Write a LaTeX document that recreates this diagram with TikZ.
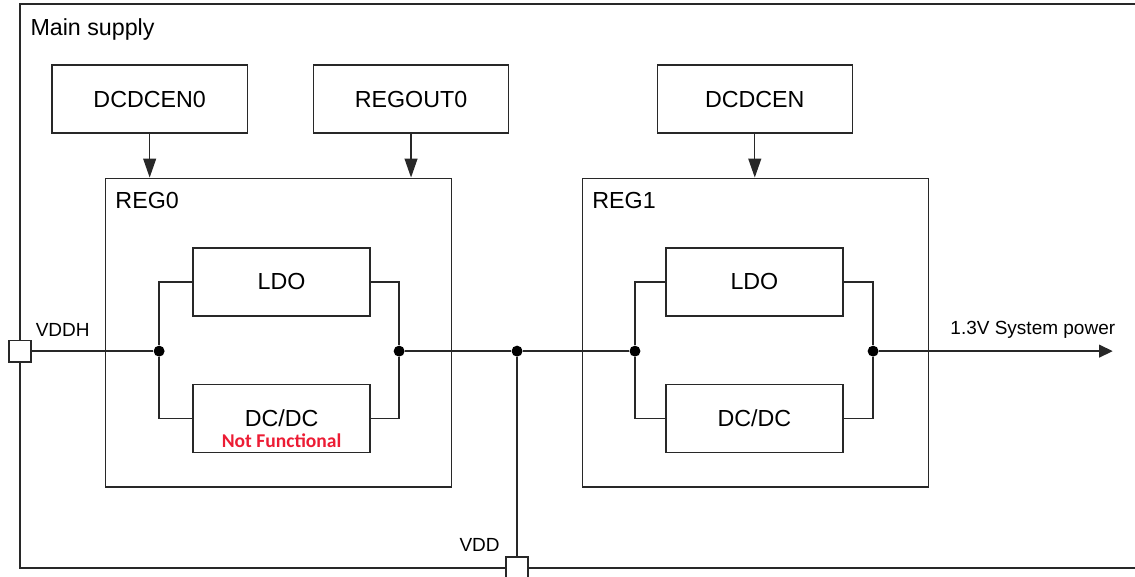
\documentclass[tikz,border=0pt]{standalone}
\usepackage{fontspec}
\setmainfont{Liberation Sans}
\newfontfamily\nffont{Carlito}
\usetikzlibrary{arrows.meta,positioning}
\definecolor{supplyLine}{RGB}{40,40,40}
\definecolor{supplyRed}{RGB}{236,28,52}

\begin{document}
\begin{tikzpicture}[
  line width=1pt,
  ctrl/.style={
    draw=supplyLine,
    minimum width=5.16cm,
    minimum height=1.80cm,
    font=\fontsize{17.5}{21}\selectfont
  },
  reg/.style={
    draw=supplyLine,
    minimum width=9.15cm,
    minimum height=8.17cm
  },
  conv/.style={
    draw=supplyLine,
    minimum width=4.68cm,
    minimum height=1.80cm,
    font=\fontsize{17.5}{21}\selectfont
  },
  dot/.style={circle,fill=black,inner sep=0pt,minimum size=2.9mm},
  port/.style={draw=supplyLine,fill=white,inner sep=0pt,minimum size=5.8mm},
  title/.style={anchor=base west,inner sep=0pt,font=\fontsize{17.5}{21}\selectfont},
  sig/.style={anchor=base west,inner sep=0pt,font=\fontsize{14.3}{17}\selectfont},
  note/.style={anchor=base,inner sep=0pt,text=supplyRed,font=\fontsize{14.7}{17}\selectfont\nffont\bfseries},
  wire/.style={draw=supplyLine},
  arrow/.style={wire,-{Triangle[length=#1,width=3.4mm]}},
  arrow/.default=5mm
]
  \useasboundingbox (0,0) rectangle (30.03,-15.26);
  % main supply frame, open to the right
  \draw[wire] (30.3,-0.11) -- (0.53,-0.11) -- (0.53,-15.03) -- (30.3,-15.03);
  \node[title] (mainlbl) at (0.79,-0.93) {Main supply};

  % enable inputs
  \node[ctrl] (en0) at (3.96,-2.62) {DCDCEN0};
  \node[ctrl,right=1.72cm of en0] (regout0) {REGOUT0};
  \node[ctrl] (en1) at (19.97,-2.62) {DCDCEN};

  % regulators
  \node[reg] (reg0) at (7.37,-8.80) {};
  \node[reg] (reg1) at (19.99,-8.80) {};
  \node[title] (reg0lbl) at ([xshift=0.26cm,yshift=-0.82cm]reg0.north west) {REG0};
  \node[title] (reg1lbl) at ([xshift=0.26cm,yshift=-0.82cm]reg1.north west) {REG1};
  \node[conv] (ldo0) at (7.45,-7.46) {LDO};
  \node[conv,below=1.77cm of ldo0] (dcdc0) {DC/DC};
  \node[note] (nf0) at ([yshift=-0.77cm]dcdc0.center) {Not Functional};
  \node[conv] (ldo1) at (19.96,-7.46) {LDO};
  \node[conv,below=1.77cm of ldo1] (dcdc1) {DC/DC};

  % junctions and pins
  \node[dot] (j0in) at (4.21,-9.29) {};
  \node[dot] (j0out) at (10.56,-9.29) {};
  \node[dot] (jvdd) at (13.68,-9.29) {};
  \node[dot] (j1in) at (16.80,-9.29) {};
  \node[dot] (j1out) at (23.10,-9.29) {};
  \node[port] (vddh) at (0.53,-9.29) {};
  \node[port] (vdd) at (13.68,-15.03) {};
  \coordinate (sysout) at (29.44,-9.29);

  \node[sig] (vddhlbl) at (0.93,-8.89) {VDDH};
  \node[sig] (vddlbl) at (12.14,-14.60) {VDD};
  \node[sig] (outlbl) at (25.13,-8.86) {1.3V System power};

  % wiring
  \draw[arrow] (en0.south) -- (en0.south |- reg0.north);
  \draw[arrow] (regout0.south) -- (regout0.south |- reg0.north);
  \draw[arrow] (en1.south) -- (en1.south |- reg1.north);
  \draw[wire] (vddh) -- (j0in);
  \draw[wire] (j0in) |- (ldo0.west);
  \draw[wire] (j0in) |- (dcdc0.west);
  \draw[wire] (ldo0.east) -| (j0out);
  \draw[wire] (dcdc0.east) -| (j0out);
  \draw[wire] (j0out) -- (jvdd) -- (j1in);
  \draw[wire] (jvdd) -- (vdd);
  \draw[wire] (j1in) |- (ldo1.west);
  \draw[wire] (j1in) |- (dcdc1.west);
  \draw[wire] (ldo1.east) -| (j1out);
  \draw[wire] (dcdc1.east) -| (j1out);
  \draw[arrow=3.6mm] (j1out) -- (sysout);
\end{tikzpicture}
\end{document}
